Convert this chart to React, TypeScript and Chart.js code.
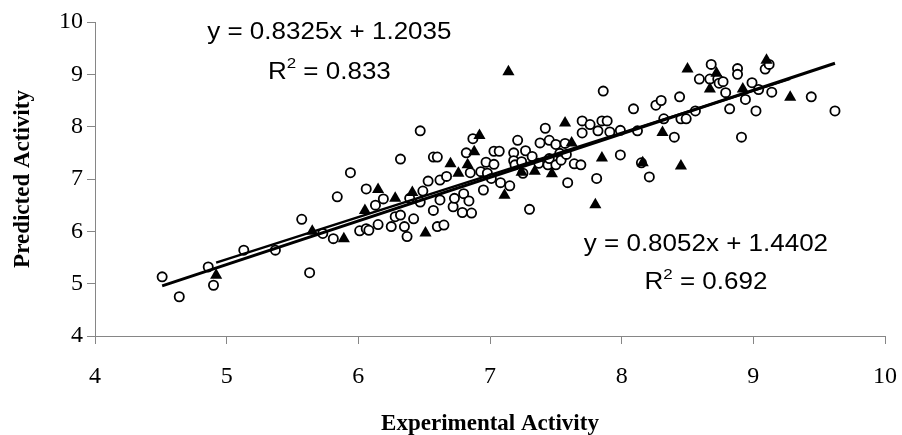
import React, { useEffect, useRef } from 'react';
import { Chart, registerables } from 'chart.js';

Chart.register(...registerables);

// Training set (open circles): [experimental, predicted]
const trainingSet: [number, number][] = [
  [4.51, 5.13], [4.64, 4.75], [4.86, 5.32], [4.90, 4.97], [5.13, 5.64], [5.37, 5.64],
  [5.57, 6.23], [5.63, 5.21], [5.73, 5.96], [5.81, 5.86], [5.84, 6.66], [5.94, 7.12],
  [6.01, 6.01], [6.06, 6.05], [6.06, 6.81], [6.08, 6.02], [6.13, 6.50], [6.15, 6.13],
  [6.19, 6.62], [6.25, 6.09], [6.28, 6.28], [6.32, 6.31], [6.32, 7.38], [6.35, 6.09],
  [6.37, 5.90], [6.39, 6.63], [6.42, 6.24], [6.47, 6.56], [6.47, 7.92], [6.49, 6.77],
  [6.53, 6.96], [6.57, 6.40], [6.57, 7.42], [6.60, 7.42], [6.60, 6.09], [6.62, 6.60],
  [6.62, 6.98], [6.65, 6.12], [6.67, 7.05], [6.72, 6.47], [6.73, 6.63], [6.79, 6.36],
  [6.80, 6.72], [6.82, 7.50], [6.84, 6.58], [6.85, 7.12], [6.86, 6.35], [6.87, 7.77],
  [6.93, 7.14], [6.95, 6.79], [6.97, 7.32], [6.98, 7.11], [7.01, 7.01], [7.03, 7.28],
  [7.03, 7.53], [7.07, 7.53], [7.08, 6.93], [7.15, 6.87], [7.18, 7.50], [7.18, 7.35],
  [7.19, 7.27], [7.21, 7.74], [7.24, 7.33], [7.25, 7.11], [7.27, 7.54], [7.30, 6.42],
  [7.32, 7.43], [7.37, 7.30], [7.38, 7.69], [7.42, 7.97], [7.44, 7.27], [7.45, 7.74],
  [7.45, 7.39], [7.50, 7.66], [7.50, 7.27], [7.53, 7.49], [7.54, 7.36], [7.57, 7.68],
  [7.58, 7.47], [7.59, 6.93], [7.64, 7.29], [7.69, 7.27], [7.70, 8.11], [7.76, 8.04],
  [7.82, 7.92], [7.70, 7.88], [7.81, 7.01], [7.85, 8.11], [7.89, 8.11], [7.86, 8.68],
  [7.91, 7.90], [7.99, 7.93], [7.99, 7.46], [8.09, 8.34], [8.12, 7.92], [8.15, 7.31],
  [8.21, 7.04], [8.26, 8.41], [8.30, 8.50], [8.32, 8.15], [8.40, 7.80], [8.44, 8.57],
  [8.45, 8.15], [8.49, 8.15], [8.56, 8.30], [8.59, 8.91], [8.68, 9.19], [8.67, 8.91],
  [8.73, 8.91], [8.74, 8.83], [8.77, 8.86], [8.79, 8.65], [8.82, 8.34], [8.88, 9.11],
  [8.88, 9.00], [8.91, 7.80], [8.94, 8.52], [8.99, 8.84], [9.02, 8.30], [9.04, 8.71],
  [9.09, 9.10], [9.12, 9.19], [9.14, 8.66], [9.44, 8.57], [9.62, 8.30],
];

// Test set (filled triangles): [experimental, predicted]
const testSet: [number, number][] = [
  [4.92, 5.16], [5.65, 6.00], [5.89, 5.86], [6.05, 6.40], [6.15, 6.80], [6.28, 6.63],
  [6.41, 6.74], [6.51, 5.97], [6.70, 7.29], [6.76, 7.11], [6.83, 7.27], [6.88, 7.52],
  [6.92, 7.83], [7.11, 6.69], [7.14, 9.05], [7.24, 7.13], [7.34, 7.15], [7.47, 7.10],
  [7.57, 8.07], [7.62, 7.69], [7.80, 6.51], [7.85, 7.40], [8.16, 7.31], [8.31, 7.89],
  [8.45, 7.25], [8.50, 9.10], [8.67, 8.72], [8.72, 9.02], [8.92, 8.72], [9.10, 9.27],
  [9.28, 8.56],
];

// Trend lines: slope, intercept, x range
const trainingFit = { slope: 0.8325, intercept: 1.2035 };
const trainingRange = [4.51, 9.62];
const testFit = { slope: 0.8052, intercept: 1.4402 };
const testRange = [4.92, 9.28];

const axisTicks = [4, 5, 6, 7, 8, 9, 10];

const xTitle = 'Experimental Activity';
const yTitle = 'Predicted Activity';

type Seg = { t: string; sup?: boolean };
const equationLabels: { x: number; y: number[]; lines: Seg[][] }[] = [
  {
    x: 5.78,
    y: [9.79, 9.04],
    lines: [[{ t: 'y = 0.8325x + 1.2035' }], [{ t: 'R' }, { t: '2', sup: true }, { t: ' = 0.833' }]],
  },
  {
    x: 8.64,
    y: [5.74, 5.01],
    lines: [[{ t: 'y = 0.8052x + 1.4402' }], [{ t: 'R' }, { t: '2', sup: true }, { t: ' = 0.692' }]],
  },
];

const mainFont = '23px "Liberation Sans", Arial, sans-serif';
const supFont = '15px "Liberation Sans", Arial, sans-serif';
const STRETCH = 1.13;

const equationPlugin = {
  id: 'equationLabels',
  afterDraw(chart: any) {
    const { ctx, scales } = chart;
    const xs = scales.x;
    const ys = scales.y;
    ctx.save();
    ctx.fillStyle = '#000';
    ctx.textBaseline = 'middle';
    ctx.textAlign = 'left';
    for (const lab of equationLabels) {
      lab.lines.forEach((segs, i) => {
        const cx = xs.getPixelForValue(lab.x);
        const cy = ys.getPixelForValue(lab.y[i]);
        let w = 0;
        for (const s of segs) {
          ctx.font = s.sup ? supFont : mainFont;
          w += ctx.measureText(s.t).width;
        }
        ctx.save();
        ctx.translate(cx, cy);
        ctx.scale(STRETCH, 1);
        let px = -w / 2;
        for (const s of segs) {
          ctx.font = s.sup ? supFont : mainFont;
          ctx.fillText(s.t, px, s.sup ? -8 : 0);
          px += ctx.measureText(s.t).width;
        }
        ctx.restore();
      });
    }
    ctx.restore();
  },
};

const lineData = (fit: { slope: number; intercept: number }, range: number[]) =>
  range.map((x) => ({ x, y: fit.slope * x + fit.intercept }));

export default function App() {
  const ref = useRef<HTMLCanvasElement | null>(null);

  useEffect(() => {
    if (!ref.current) return;
    const axisColor = '#868686';
    const tickFont = { family: '"Liberation Serif", "Times New Roman", serif', size: 24 };
    const titleFont = { family: '"Liberation Serif", "Times New Roman", serif', size: 23, weight: 'bold' as const };
    const chart = new Chart(ref.current, {
      type: 'scatter',
      data: {
        datasets: [
          {
            label: 'Training fit',
            data: lineData(trainingFit, trainingRange),
            showLine: true,
            borderColor: '#000',
            borderWidth: 3,
            pointRadius: 0,
            order: 0,
          },
          {
            label: 'Test fit',
            data: lineData(testFit, testRange),
            showLine: true,
            borderColor: '#000',
            borderWidth: 2.5,
            pointRadius: 0,
            order: 1,
          },
          {
            label: 'Test set',
            data: testSet.map(([x, y]) => ({ x, y })),
            pointStyle: 'triangle',
            pointRadius: 7,
            backgroundColor: '#000',
            borderColor: '#000',
            borderWidth: 0,
            order: 2,
          },
          {
            label: 'Training set',
            data: trainingSet.map(([x, y]) => ({ x, y })),
            pointStyle: 'circle',
            pointRadius: 4.6,
            backgroundColor: '#fff',
            borderColor: '#000',
            borderWidth: 1.8,
            order: 3,
          },
        ],
      },
      options: {
        animation: false,
        responsive: false,
        events: [],
        layout: { padding: { top: 22, right: 17, left: 0, bottom: 0 } },
        plugins: { legend: { display: false }, tooltip: { enabled: false } },
        scales: {
          x: {
            type: 'linear',
            min: 4,
            max: 10,
            afterBuildTicks: (s: any) => {
              s.ticks = axisTicks.map((v) => ({ value: v }));
            },
            afterFit: (s: any) => {
              s.height = 99;
              s.paddingLeft = 0;
              s.paddingRight = 0;
            },
            ticks: { color: '#000', font: tickFont, padding: 18, maxRotation: 0 },
            grid: { drawOnChartArea: false, color: axisColor, tickLength: 8 },
            border: { color: axisColor, width: 1 },
            title: { display: true, text: xTitle, color: '#000', font: titleFont, padding: { top: 0, bottom: -3 } },
          },
          y: {
            type: 'linear',
            min: 4,
            max: 10,
            afterBuildTicks: (s: any) => {
              s.ticks = axisTicks.map((v) => ({ value: v }));
            },
            afterFit: (s: any) => {
              s.width = 95;
            },
            ticks: { color: '#000', font: tickFont, padding: 4 },
            grid: { drawOnChartArea: false, color: axisColor, tickLength: 8 },
            border: { color: axisColor, width: 1 },
            title: { display: true, text: yTitle, color: '#000', font: titleFont, padding: { top: 9, bottom: 0 } },
          },
        },
      },
      plugins: [equationPlugin],
    });
    return () => chart.destroy();
  }, []);

  return (
    <div style={{ position: 'absolute', left: 0, top: 0, width: 902, height: 435, background: '#fff' }}>
      <canvas ref={ref} width={902} height={435} />
    </div>
  );
}
